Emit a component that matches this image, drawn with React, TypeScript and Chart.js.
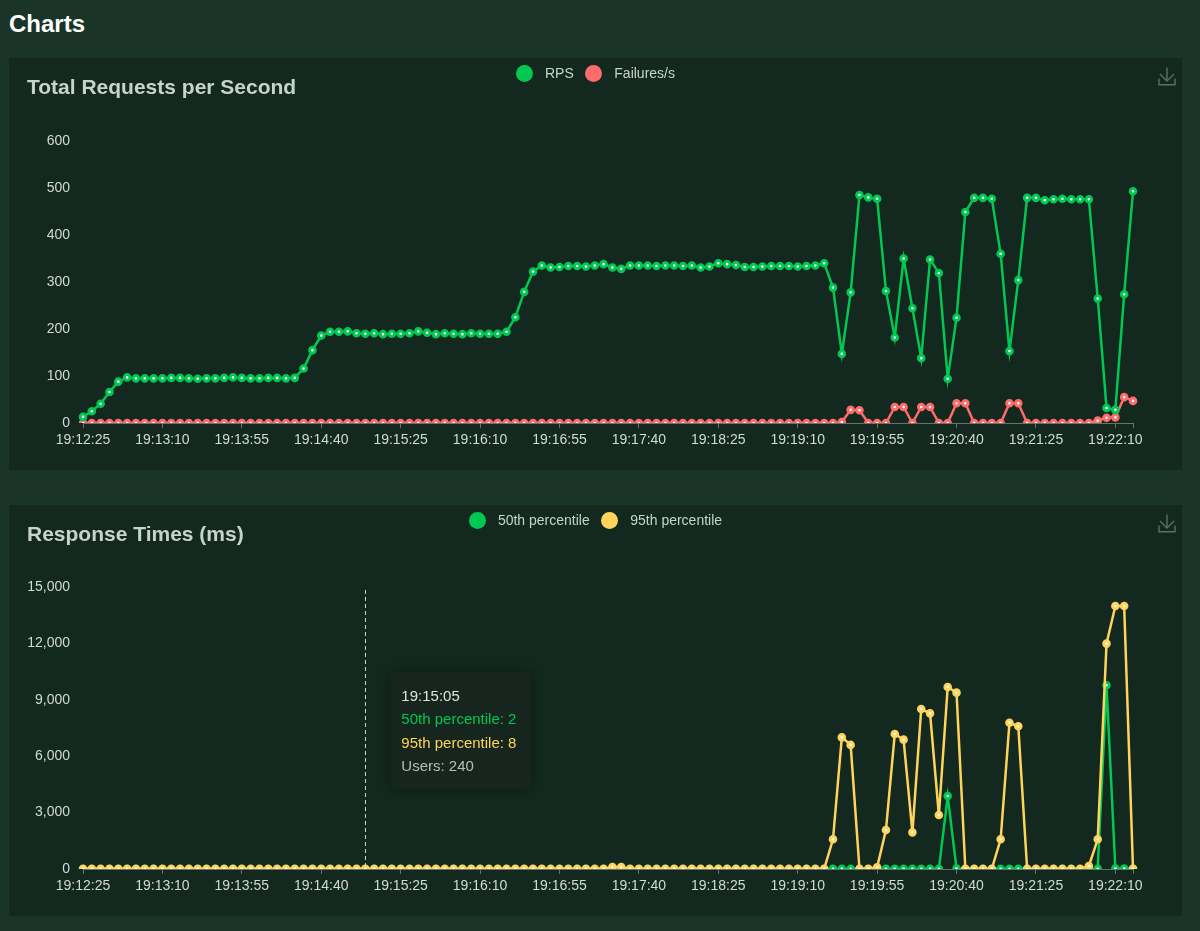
import React, { useEffect, useRef } from "react";
import { Chart, registerables } from "chart.js";

Chart.register(...registerables);

const FONT = '"Liberation Sans", Arial, Helvetica, sans-serif';
Chart.defaults.font.family = FONT;

// ---------- data ----------
const timeLabels = [
  "19:12:25", "19:12:30", "19:12:35", "19:12:40", "19:12:45", "19:12:50", "19:12:55",
  "19:13:00", "19:13:05", "19:13:10", "19:13:15", "19:13:20", "19:13:25", "19:13:30", "19:13:35", "19:13:40", "19:13:45", "19:13:50", "19:13:55",
  "19:14:00", "19:14:05", "19:14:10", "19:14:15", "19:14:20", "19:14:25", "19:14:30", "19:14:35", "19:14:40", "19:14:45", "19:14:50", "19:14:55",
  "19:15:00", "19:15:05", "19:15:10", "19:15:15", "19:15:20", "19:15:25", "19:15:30", "19:15:35", "19:15:40", "19:15:45", "19:15:50", "19:15:55",
  "19:16:00", "19:16:05", "19:16:10", "19:16:15", "19:16:20", "19:16:25", "19:16:30", "19:16:35", "19:16:40", "19:16:45", "19:16:50", "19:16:55",
  "19:17:00", "19:17:05", "19:17:10", "19:17:15", "19:17:20", "19:17:25", "19:17:30", "19:17:35", "19:17:40", "19:17:45", "19:17:50", "19:17:55",
  "19:18:00", "19:18:05", "19:18:10", "19:18:15", "19:18:20", "19:18:25", "19:18:30", "19:18:35", "19:18:40", "19:18:45", "19:18:50", "19:18:55",
  "19:19:00", "19:19:05", "19:19:10", "19:19:15", "19:19:20", "19:19:25", "19:19:30", "19:19:35", "19:19:40", "19:19:45", "19:19:50", "19:19:55",
  "19:20:00", "19:20:05", "19:20:10", "19:20:15", "19:20:20", "19:20:25", "19:20:30", "19:20:35", "19:20:40", "19:20:45", "19:20:50", "19:20:55",
  "19:21:00", "19:21:05", "19:21:10", "19:21:15", "19:21:20", "19:21:25", "19:21:30", "19:21:35", "19:21:40", "19:21:45", "19:21:50", "19:21:55",
  "19:22:00", "19:22:05", "19:22:10", "19:22:15", "19:22:20",
];

const rps = [
  13, 25, 41, 66, 88, 97, 95, 95, 95, 95,
  96, 96, 95, 94, 95, 95, 96, 97, 96, 95,
  95, 96, 96, 95, 96, 116, 155, 186, 194, 194,
  195, 191, 190, 191, 189, 190, 190, 191, 195, 192,
  189, 191, 190, 189, 191, 190, 190, 190, 194, 225,
  279, 322, 335, 331, 332, 334, 334, 333, 335, 338,
  331, 328, 335, 335, 335, 334, 335, 335, 334, 335,
  331, 333, 340, 338, 336, 332, 332, 333, 334, 334,
  334, 333, 334, 335, 340, 288, 147, 278, 485, 480,
  477, 281, 182, 350, 244, 138, 348, 319, 94, 224,
  449, 479, 479, 477, 360, 153, 304, 479, 479, 474,
  476, 477, 476, 476, 476, 265, 32, 28, 274, 493,
];

const failures = [
  0, 0, 0, 0, 0, 0, 0, 0, 0, 0,
  0, 0, 0, 0, 0, 0, 0, 0, 0, 0,
  0, 0, 0, 0, 0, 0, 0, 0, 0, 0,
  0, 0, 0, 0, 0, 0, 0, 0, 0, 0,
  0, 0, 0, 0, 0, 0, 0, 0, 0, 0,
  0, 0, 0, 0, 0, 0, 0, 0, 0, 0,
  0, 0, 0, 0, 0, 0, 0, 0, 0, 0,
  0, 0, 0, 0, 0, 0, 0, 0, 0, 0,
  0, 0, 0, 0, 0, 0, 2, 28, 27, 0,
  0, 0, 34, 34, 0, 34, 34, 0, 0, 42,
  42, 0, 0, 0, 0, 42, 42, 0, 0, 0,
  0, 0, 0, 0, 0, 5, 11, 12, 55, 47,
];

const p50 = [
  3, 2, 2, 2, 2, 2, 2, 2, 2, 2,
  2, 2, 2, 2, 2, 2, 2, 2, 2, 2,
  2, 2, 2, 2, 2, 2, 3, 3, 2, 2,
  2, 2, 2, 2, 2, 2, 2, 2, 2, 2,
  2, 2, 2, 2, 2, 2, 2, 2, 2, 3,
  3, 3, 3, 3, 3, 3, 3, 3, 3, 3,
  4, 4, 3, 3, 3, 3, 3, 3, 3, 3,
  3, 3, 3, 3, 3, 3, 3, 3, 3, 3,
  3, 3, 3, 3, 4, 6, 12, 10, 4, 3,
  5, 8, 14, 12, 9, 16, 14, 11, 3880, 20,
  4, 3, 3, 3, 8, 15, 13, 3, 3, 3,
  3, 3, 3, 3, 4, 11, 9770, 20, 30, 25,
];

const p95 = [
  9, 7, 8, 8, 7, 8, 8, 7, 8, 8,
  8, 8, 7, 8, 8, 8, 8, 7, 8, 8,
  8, 8, 8, 7, 8, 9, 11, 10, 9, 8,
  8, 8, 8, 8, 8, 8, 8, 8, 8, 8,
  8, 8, 8, 8, 8, 8, 8, 9, 9, 12,
  14, 12, 11, 10, 10, 10, 10, 10, 10, 11,
  110, 100, 12, 11, 10, 10, 10, 10, 10, 10,
  10, 10, 10, 10, 10, 10, 10, 11, 10, 10,
  10, 10, 10, 11, 14, 1580, 7000, 6600, 14, 12,
  90, 2070, 7180, 6880, 1950, 8510, 8280, 2870, 9680, 9380,
  14, 11, 10, 10, 1580, 7780, 7590, 12, 10, 10,
  10, 10, 10, 11, 160, 1580, 11990, 13990, 13990, 14,
];

const rpsAxis = { max: 600, step: 100 };
const rtAxis = { max: 15000, step: 3000 };
const LABEL_EVERY = 9;
const TOOLTIP_INDEX = 32;
const TOOLTIP_USERS = 240;

// ---------- styles ----------
const PAGE_BG = "#1b3429";
const CARD_BG = "#13281f";
const GREEN = "#00c853";
const RED = "#ff6b6b";
const YELLOW = "#ffd45a";
const TEXT = "#c7d4cc";
const TICK = "#d2dad5";
const AXIS = "#66746c";

function lineDataset(label: string, data: number[], color: string, order: number) {
  return {
    label,
    data,
    borderColor: color,
    backgroundColor: color,
    pointBorderColor: color,
    pointBackgroundColor: "#ffffff",
    borderWidth: 2.5,
    pointRadius: 2.8,
    pointHoverRadius: 2.8,
    pointBorderWidth: 3,
    tension: 0,
    fill: false,
    order,
  };
}

function buildOptions(yMax: number, yStep: number, padTop: number, axisHeight: number) {
  const last = timeLabels.length - 1;
  return {
    responsive: true,
    maintainAspectRatio: false,
    animation: false as const,
    locale: "en-US",
    events: [] as any[],
    layout: { padding: { top: padTop, right: 49, bottom: 0, left: 0 } },
    plugins: {
      legend: { display: false },
      title: { display: false },
      tooltip: { enabled: false },
    },
    scales: {
      x: {
        type: "category" as const,
        offset: false,
        grid: {
          display: true,
          drawOnChartArea: false,
          drawTicks: true,
          tickLength: 5,
          color: AXIS,
          tickColor: (c: any) =>
            c.index % LABEL_EVERY === 0 || c.index === last ? AXIS : "rgba(0,0,0,0)",
        },
        border: { display: true, color: AXIS, width: 1 },
        ticks: {
          autoSkip: false,
          maxRotation: 0,
          minRotation: 0,
          padding: 4,
          color: TICK,
          font: { size: 14, family: FONT },
          callback: (_v: any, i: number) => (i % LABEL_EVERY === 0 ? timeLabels[i] : ""),
        },
        afterFit: (s: any) => {
          s.height = axisHeight;
        },
      },
      y: {
        min: 0,
        max: yMax,
        ticks: { stepSize: yStep, padding: 13, color: TICK, font: { size: 14, family: FONT } },
        grid: { display: false, drawTicks: false },
        border: { display: false },
        afterFit: (s: any) => {
          s.width = 74;
        },
      },
    },
  };
}

const tooltipPlugin = {
  id: "staticTooltip",
  beforeDatasetsDraw(chart: any) {
    const { ctx, chartArea, scales } = chart;
    const x = Math.round(scales.x.getPixelForValue(TOOLTIP_INDEX)) + 0.5;
    ctx.save();
    ctx.strokeStyle = "rgba(225,232,228,0.9)";
    ctx.lineWidth = 1;
    ctx.setLineDash([4, 3]);
    ctx.beginPath();
    ctx.moveTo(x, chartArea.top + 3);
    ctx.lineTo(x, chartArea.bottom);
    ctx.stroke();
    ctx.restore();
  },
  afterDraw(chart: any) {
    const { ctx, chartArea, scales } = chart;
    const x = scales.x.getPixelForValue(TOOLTIP_INDEX);
    const bx = x + 25;
    const by = chartArea.top + 85;
    const bw = 140;
    const bh = 117;
    const r = 5;
    ctx.save();
    ctx.shadowColor = "rgba(0,0,0,0.35)";
    ctx.shadowBlur = 12;
    ctx.fillStyle = "#16261e";
    ctx.beginPath();
    ctx.moveTo(bx + r, by);
    ctx.lineTo(bx + bw - r, by);
    ctx.quadraticCurveTo(bx + bw, by, bx + bw, by + r);
    ctx.lineTo(bx + bw, by + bh - r);
    ctx.quadraticCurveTo(bx + bw, by + bh, bx + bw - r, by + bh);
    ctx.lineTo(bx + r, by + bh);
    ctx.quadraticCurveTo(bx, by + bh, bx, by + bh - r);
    ctx.lineTo(bx, by + r);
    ctx.quadraticCurveTo(bx, by, bx + r, by);
    ctx.closePath();
    ctx.fill();
    ctx.shadowColor = "rgba(0,0,0,0)";
    ctx.shadowBlur = 0;
    ctx.font = `15px ${FONT}`;
    ctx.textBaseline = "alphabetic";
    ctx.textAlign = "left";
    const lines: [string, string][] = [
      [timeLabels[TOOLTIP_INDEX], "#dde3df"],
      [`50th percentile: ${p50[TOOLTIP_INDEX]}`, GREEN],
      [`95th percentile: ${p95[TOOLTIP_INDEX]}`, YELLOW],
      [`Users: ${TOOLTIP_USERS}`, "#b3bfb8"],
    ];
    lines.forEach(([t, c], k) => {
      ctx.fillStyle = c;
      ctx.fillText(t, bx + 11, by + 28.5 + k * 23.5);
    });
    ctx.restore();
  },
};

function DownloadIcon() {
  return (
    <svg
      width="18"
      height="19"
      viewBox="0 0 18 19"
      style={{ position: "absolute", left: 1149, top: 9 }}
    >
      <g fill="none" stroke="#5e6e66" strokeWidth="1.4">
        <path d="M9 0.5 V14" />
        <path d="M2 7 L9 14 L16 7" />
        <path d="M1 11.5 V17.8 H17 V11.5" />
      </g>
    </svg>
  );
}

type LegendItem = { label: string; color: string };

function ChartCard(props: {
  top: number;
  height: number;
  title: string;
  legend: LegendItem[];
  datasets: any[];
  yMax: number;
  yStep: number;
  padTop: number;
  axisHeight: number;
  plugins?: any[];
}) {
  const ref = useRef<HTMLCanvasElement>(null);
  useEffect(() => {
    if (!ref.current) return;
    const chart = new Chart(ref.current, {
      type: "line",
      data: { labels: timeLabels, datasets: props.datasets },
      options: buildOptions(props.yMax, props.yStep, props.padTop, props.axisHeight) as any,
      plugins: props.plugins || [],
    });
    return () => chart.destroy();
  }, []);
  return (
    <div
      style={{
        position: "absolute",
        left: 9,
        top: props.top,
        width: 1173,
        height: props.height,
        background: CARD_BG,
      }}
    >
      <div style={{ position: "absolute", inset: 0 }}>
        <canvas ref={ref} />
      </div>
      <div
        style={{
          position: "absolute",
          left: 18,
          top: 18,
          fontSize: 21,
          lineHeight: "21px",
          fontWeight: 700,
          color: TEXT,
          whiteSpace: "nowrap",
        }}
      >
        {props.title}
      </div>
      <div
        style={{
          position: "absolute",
          left: 0,
          right: 0,
          top: 6.5,
          display: "flex",
          justifyContent: "center",
          alignItems: "center",
          fontSize: 14,
          lineHeight: "17px",
          color: TEXT,
        }}
      >
        {props.legend.map((it, k) => (
          <div
            key={it.label}
            style={{ display: "flex", alignItems: "center", marginLeft: k === 0 ? 0 : 11.5 }}
          >
            <span
              style={{
                display: "inline-block",
                width: 17,
                height: 17,
                borderRadius: "50%",
                background: it.color,
                marginRight: 12,
              }}
            />
            <span>{it.label}</span>
          </div>
        ))}
      </div>
      <DownloadIcon />
    </div>
  );
}

export default function App() {
  const rpsSets = [
    lineDataset("RPS", rps, GREEN, 0),
    lineDataset("Failures/s", failures, RED, 1),
  ];
  const rtSets = [
    lineDataset("50th percentile", p50, GREEN, 1),
    lineDataset("95th percentile", p95, YELLOW, 0),
  ];
  return (
    <div style={{ position: "fixed", inset: 0, background: PAGE_BG, fontFamily: FONT }}>
      <div
        style={{
          position: "absolute",
          left: 9,
          top: 12,
          fontSize: 24,
          lineHeight: "24px",
          fontWeight: 700,
          color: "#ffffff",
        }}
      >
        Charts
      </div>
      <ChartCard
        top={58}
        height={412}
        title="Total Requests per Second"
        legend={[
          { label: "RPS", color: GREEN },
          { label: "Failures/s", color: RED },
        ]}
        datasets={rpsSets}
        yMax={rpsAxis.max}
        yStep={rpsAxis.step}
        padTop={83}
        axisHeight={47}
      />
      <ChartCard
        top={505}
        height={411}
        title="Response Times (ms)"
        legend={[
          { label: "50th percentile", color: GREEN },
          { label: "95th percentile", color: YELLOW },
        ]}
        datasets={rtSets}
        yMax={rtAxis.max}
        yStep={rtAxis.step}
        padTop={82}
        axisHeight={47}
        plugins={[tooltipPlugin]}
      />
    </div>
  );
}
